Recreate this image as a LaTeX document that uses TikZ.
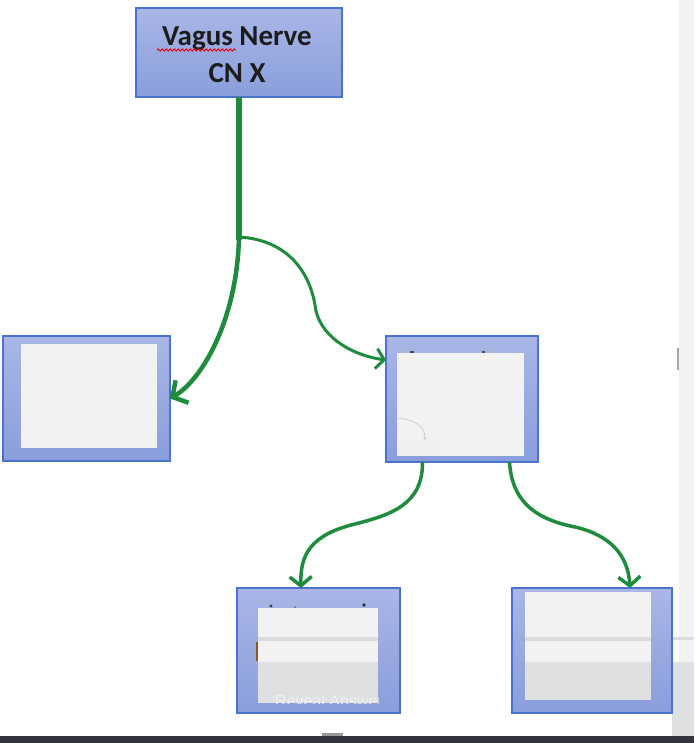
\documentclass[tikz,border=0pt]{standalone}
\usepackage{fontspec}
\setmainfont{Carlito}
\newfontfamily\revealfont{Liberation Sans}
\usetikzlibrary{arrows.meta,decorations.pathmorphing,calc}
\definecolor{boxborder}{HTML}{4A72CF}
\definecolor{boxtop}{HTML}{A9B6E6}
\definecolor{boxbot}{HTML}{8A9EDC}
\definecolor{innergray}{HTML}{F2F2F2}
\definecolor{bandline}{HTML}{DCDCDC}
\definecolor{banddark}{HTML}{DFE0E2}
\definecolor{nervegreen}{RGB}{30,140,60}
\definecolor{stripgray}{HTML}{F2F2F2}
\definecolor{barDark}{HTML}{33353D}
\definecolor{txtdark}{HTML}{1C1C1C}
\tikzset{
  bluebox/.style={draw=boxborder, line width=2pt, top color=boxtop, bottom color=boxbot,
    rectangle, inner sep=0pt, outer sep=0pt},
  innerbox/.style={fill=innergray, draw=none, rectangle, inner sep=0pt, outer sep=0pt},
  trunk/.style={draw=nervegreen, line width=5.5pt},
  thickbranch/.style={draw=nervegreen, line width=4.5pt,
    -{Straight Barb[length=11pt,width=26pt,line width=4.5pt]}},
  thinbranch/.style={draw=nervegreen, line width=3pt,
    -{Straight Barb[length=8pt,width=20pt,line width=3pt]}},
  lowbranch/.style={draw=nervegreen, line width=3.5pt,
    -{Straight Barb[length=9pt,width=22pt,line width=3.5pt]}},
}
\begin{document}
\begin{tikzpicture}[x=1pt,y=-1pt]
\useasboundingbox (0,0) rectangle (694,743);
\fill[white] (0,0) rectangle (694,743);
% right gray strip and bottom bar
\fill[stripgray] (679,0) rectangle (694,736);
\fill[black!35] (676.5,348) rectangle (678.5,370);
\fill[bandline] (672,637) rectangle (694,640);
\fill[banddark] (672,662) rectangle (694,736);
\fill[barDark] (0,736) rectangle (694,743);
\fill[black!40] (322,733) rectangle (343,736);

% top box
\node[bluebox, minimum width=206pt, minimum height=89pt] (vagus) at (239,52.5) {};
\node[font=\bfseries\fontsize{29}{37}\selectfont, text=txtdark, align=center,
      inner sep=0pt] (vagustext) at (237,55) {Vagus Nerve\\CN X};
\draw[red!85!black, line width=0.9pt, decorate,
      decoration={snake, segment length=4pt, amplitude=1.1pt}]
      (157,50) -- (236,50);

% left box
\node[bluebox, minimum width=167pt, minimum height=125pt] (lbox) at (86.5,398.5) {};
\node[innerbox, minimum width=136pt, minimum height=104pt] (linner) at (89,396) {};

% middle box
\node[bluebox, minimum width=152pt, minimum height=126pt] (mbox) at (462,399) {};
\node[innerbox, minimum width=127pt, minimum height=103pt] (minner) at (460.5,404.5) {};
\fill[black!70] (410,350.5) rectangle (414,352.5);
\fill[black!70] (482,350.5) rectangle (485,352.5);
\fill[black!6] (398,441) rectangle (438,456);
\draw[black!22, line width=0.6pt, -{Stealth[length=3pt,width=3pt]}]
      (398,418) .. controls (418,420) and (425,428) .. (425,440);

% bottom-left box
\node[bluebox, minimum width=163pt, minimum height=125pt] (blbox) at (318.5,650.5) {};
\node[innerbox, minimum width=120pt, minimum height=95pt] (blinner) at (318,655.5) {};
\fill[bandline] (258,637) rectangle (378,641);
\fill[banddark] (258,662) rectangle (378,703);
\begin{scope}
  \clip (258,608) rectangle (378,703);
  \node[anchor=base west, font=\revealfont\fontsize{16}{18}\selectfont,
        text=white!94!black, inner sep=0pt] (reveal) at (275,706) {Reveal Answer};
\end{scope}
\fill[black!75] (271,606) circle (1.6);
\fill[black!60] (295,607) circle (1);
\fill[black!80] (364,605) circle (1.8);
\fill[brown!70!black] (256,642) rectangle (258,661);

% bottom-right box
\node[bluebox, minimum width=160pt, minimum height=125pt] (brbox) at (592,650.5) {};
\node[innerbox, minimum width=126pt, minimum height=108pt] (brinner) at (588,646) {};
\fill[bandline] (525,637) rectangle (651,641);
\fill[banddark] (525,662) rectangle (651,700);

% connectors
\coordinate (j) at (239,237);
\draw[trunk] (vagus.south) -- ([yshift=-2.5pt]j);
\draw[thickbranch] (j) .. controls (237,320) and (202,380) .. (lbox.east);
\draw[thinbranch] (j) .. controls (290,240) and (310,275) .. (315,305)
      .. controls (318,335) and (350,355) .. ([yshift=39pt]mbox.west);
\draw[lowbranch] ([xshift=-39.5pt]mbox.south) .. controls (423,505) and (390,515) .. (355,524)
      .. controls (310,535) and (300,555) .. ([xshift=-17.5pt]blbox.north);
\draw[lowbranch] ([xshift=47.5pt]mbox.south) .. controls (512,505) and (540,520) .. (575,527)
      .. controls (610,535) and (628,555) .. ([xshift=38pt]brbox.north);
\end{tikzpicture}
\end{document}
